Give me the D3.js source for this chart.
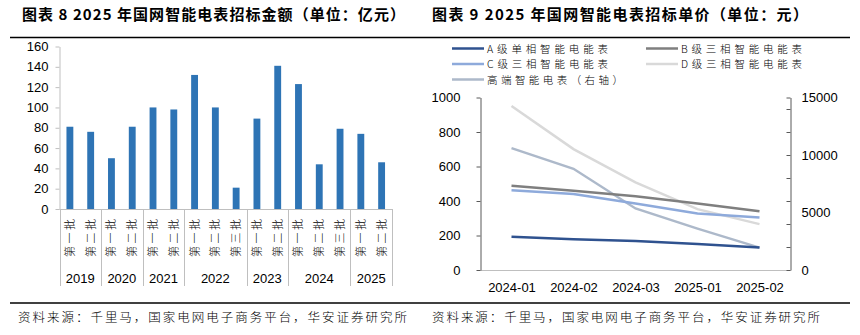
<!DOCTYPE html>
<html>
<head>
<meta charset="utf-8">
<script src="https://cdn.jsdelivr.net/npm/d3@7"></script>
<style>
  body { margin: 0; background: #fff; }
  svg { display: block; }
  .num { font-family: "Liberation Sans", Arial, sans-serif; font-size: 13px; fill: #000; }
  .cjk { font-family: "Noto Sans CJK SC", sans-serif; fill: #000; }
</style>
</head>
<body>
<svg id="chart"></svg>
<script>
"use strict";

// left panel: tender amount per batch (100 million yuan)
const bar_year = ["2019", "2019", "2020", "2020", "2021", "2021", "2022", "2022", "2022",
  "2023", "2023", "2024", "2024", "2024", "2025", "2025"];
const bar_batch = ["第一批", "第二批", "第一批", "第二批", "第一批", "第二批", "第一批", "第二批", "第三批",
  "第一批", "第二批", "第一批", "第二批", "第三批", "第一批", "第二批"];
const bar_amount = [81, 76, 50, 81, 100, 98, 132, 100, 21, 89, 141, 123, 44, 79, 74, 46];

// right panel: unit price per meter type (yuan)
const price_months = ["2024-01", "2024-02", "2024-03", "2025-01", "2025-02"];
const price_a = [193, 178, 168, 151, 131];
const price_b = [488, 459, 428, 386, 340];
const price_c = [463, 440, 386, 328, 305];
const price_d = [951, 701, 508, 353, 266];
const price_high = [10600, 8800, 5350, 3600, 1950];

const title_left = "图表 8 2025 年国网智能电表招标金额（单位：亿元）";
const title_right = "图表 9 2025 年国网智能电表招标单价（单位：元）";
const source_text = "资料来源：千里马，国家电网电子商务平台，华安证券研究所";

const width = 860, height = 335;
let svg = d3.select("#chart").attr("width", width).attr("height", height);

// ---------------------------------------------------------------
// headers and footers

svg.append("text").attr("class", "cjk").attr("x", 22).attr("y", 20)
  .attr("font-size", 15).attr("font-weight", "bold")
  .attr("textLength", 383).attr("lengthAdjust", "spacing").text(title_left);
svg.append("text").attr("class", "cjk").attr("x", 432).attr("y", 20)
  .attr("font-size", 15).attr("font-weight", "bold")
  .attr("textLength", 376).attr("lengthAdjust", "spacing").text(title_right);

svg.append("line").attr("x1", 10).attr("x2", 850).attr("y1", 37.5).attr("y2", 37.5)
  .attr("stroke", "#000").attr("stroke-width", 1.5);
svg.append("line").attr("x1", 10).attr("x2", 850).attr("y1", 303).attr("y2", 303)
  .attr("stroke", "#000").attr("stroke-width", 1.5);

[[18, 389], [432, 388]].forEach(([x0, len]) => {
  svg.append("text").attr("class", "cjk").attr("x", x0).attr("y", 322)
    .attr("font-size", 12.5).attr("font-weight", 300)
    .attr("textLength", len).attr("lengthAdjust", "spacing").text(source_text);
});

// ---------------------------------------------------------------
// left: bar chart

const bl = 59.5, br = 392, bt = 46.5, bb = 209;
let bar_x = d3.scaleBand().domain(d3.range(bar_amount.length)).range([bl, br]).padding(0);
let bar_y = d3.scaleLinear().domain([0, 160]).range([bb, bt]);
const bar_w = bar_x.bandwidth() * 0.33;

let y_ax = svg.append("g").attr("transform", "translate(" + bl + ",0)")
  .call(d3.axisLeft(bar_y).tickValues(d3.range(0, 161, 20)).tickSize(4).tickSizeOuter(0).tickPadding(7));
y_ax.selectAll("path,line").attr("stroke", "#bfbfbf");
y_ax.selectAll("text").attr("class", "num").attr("font-family", null).attr("font-size", null);

svg.append("g").selectAll("rect")
  .data(bar_amount)
  .enter().append("rect")
  .attr("x", (d, i) => bar_x(i) + (bar_x.bandwidth() - bar_w) / 2)
  .attr("y", d => bar_y(d))
  .attr("width", bar_w)
  .attr("height", d => bb - bar_y(d))
  .attr("fill", "#2e74b5");

svg.append("line").attr("x1", bl).attr("x2", br).attr("y1", bb + 0.5).attr("y2", bb + 0.5)
  .attr("stroke", "#bfbfbf");

// batch labels, written vertically
svg.append("g").selectAll("text")
  .data(bar_batch)
  .enter().append("text")
  .attr("class", "cjk")
  .attr("font-size", 11).attr("font-weight", 300)
  .attr("text-anchor", "middle")
  .attr("transform", (d, i) => "translate(" + (bar_x(i) + bar_x.bandwidth() / 2 + 4) + ",238) rotate(-90)")
  .attr("textLength", 38).attr("lengthAdjust", "spacing")
  .text(d => d);

// year groups and separators
let year_groups = d3.groups(d3.range(bar_year.length), i => bar_year[i]);
let sep_x = [bl];
year_groups.forEach(([yr, idx]) => {
  const x0 = bar_x(idx[0]), x1 = bar_x(idx[idx.length - 1]) + bar_x.bandwidth();
  sep_x.push(x1);
  svg.append("text").attr("class", "num").attr("x", (x0 + x1) / 2).attr("y", 283)
    .attr("text-anchor", "middle").text(yr);
});
svg.append("g").selectAll("line")
  .data(sep_x)
  .enter().append("line")
  .attr("x1", d => Math.round(d) + 0.5).attr("x2", d => Math.round(d) + 0.5)
  .attr("y1", bb).attr("y2", 286)
  .attr("stroke", "#bfbfbf");

// ---------------------------------------------------------------
// right: price lines, dual axis

const ll = 480.5, lr = 790.5, lt = 97.5, lb = 270;
let line_x = d3.scalePoint().domain(price_months).range([ll, lr]).padding(0.5);
let line_y = d3.scaleLinear().domain([0, 1000]).range([lb, lt]);
let line_y2 = d3.scaleLinear().domain([0, 15000]).range([lb, lt]);
const plain = d3.format("d");

svg.append("line").attr("x1", ll).attr("x2", lr).attr("y1", lb + 0.5).attr("y2", lb + 0.5)
  .attr("stroke", "#bfbfbf");

let ly_ax = svg.append("g").attr("transform", "translate(" + ll + ",0)")
  .call(d3.axisLeft(line_y).tickValues(d3.range(0, 1001, 200)).tickFormat(plain)
    .tickSize(4).tickSizeOuter(0).tickPadding(16));
ly_ax.selectAll("path,line").attr("stroke", "#595959");
ly_ax.selectAll("text").attr("class", "num").attr("font-family", null).attr("font-size", null);

// right axis: inward ticks every 2000, labels every 5000
let ry_ax = svg.append("g").attr("transform", "translate(" + lr + ",0)")
  .call(d3.axisRight(line_y2).tickValues(d3.range(0, 15001, 2000).concat([15000])).tickSize(-4).tickSizeOuter(0).tickFormat(""));
ry_ax.selectAll("path,line").attr("stroke", "#595959");
let ry_lab = svg.append("g").attr("transform", "translate(" + lr + ",0)")
  .call(d3.axisRight(line_y2).tickValues([0, 5000, 10000, 15000]).tickFormat(plain).tickSize(0).tickPadding(11));
ry_lab.select(".domain").remove();
ry_lab.selectAll("text").attr("class", "num").attr("font-family", null).attr("font-size", null);

let lx_ax = svg.append("g").attr("transform", "translate(0," + lb + ")")
  .call(d3.axisBottom(line_x).tickSize(0).tickPadding(13));
lx_ax.select(".domain").remove();
lx_ax.selectAll("text").attr("class", "num").attr("font-family", null).attr("font-size", null);

const series = [
  { name: "A级单相智能电能表", values: price_a, color: "#2f528f", scale: line_y },
  { name: "B级三相智能电能表", values: price_b, color: "#7f7f7f", scale: line_y },
  { name: "C级三相智能电能表", values: price_c, color: "#8eaadb", scale: line_y },
  { name: "D级三相智能电能表", values: price_d, color: "#d9d9d9", scale: line_y },
  { name: "高端智能电表（右轴）", values: price_high, color: "#adb9ca", scale: line_y2 }
];

// draw order: light lines below the darker ones
[3, 4, 2, 1, 0].forEach(k => {
  const s = series[k];
  const line = d3.line().x((d, i) => line_x(price_months[i])).y(d => s.scale(d));
  svg.append("path").datum(s.values)
    .attr("d", line)
    .attr("fill", "none")
    .attr("stroke", s.color)
    .attr("stroke-width", 2.5);
});

// legend, three rows
const leg_pos = [[452, 48.5], [646, 48.5], [452, 64], [646, 64], [452, 79.5]];
const leg_len = [121, 121, 121, 121, 136];
series.forEach((s, k) => {
  const [lx, ly] = leg_pos[k];
  svg.append("line").attr("x1", lx).attr("x2", lx + 32).attr("y1", ly).attr("y2", ly)
    .attr("stroke", s.color).attr("stroke-width", 2.5);
  svg.append("text").attr("class", "cjk").attr("x", lx + 35).attr("y", ly + 4)
    .attr("font-size", 10.5).attr("font-weight", 300)
    .attr("textLength", leg_len[k]).attr("lengthAdjust", "spacing")
    .text(s.name);
});
</script>
</body>
</html>
